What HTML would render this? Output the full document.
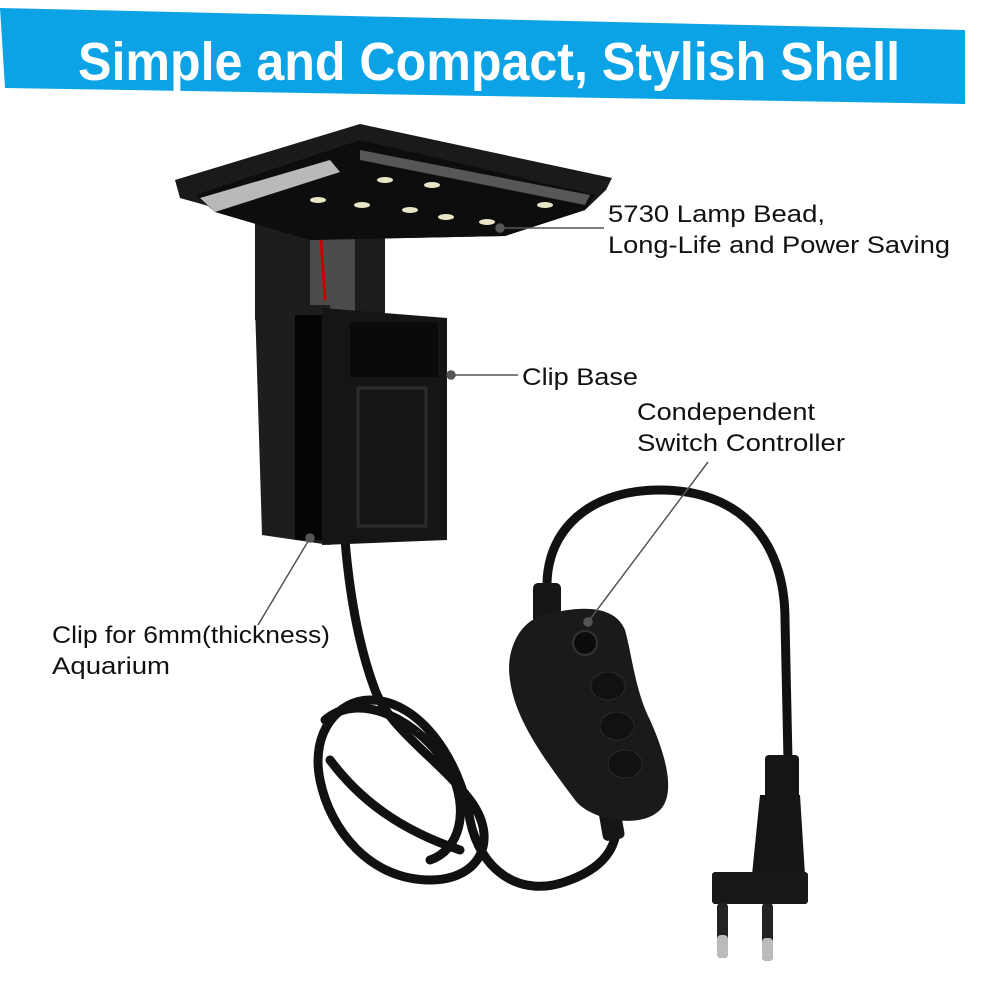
<!DOCTYPE html>
<html><head><meta charset="utf-8"><style>
html,body{margin:0;padding:0;background:#fff;}
svg{display:block;}
text{font-family:"Liberation Sans",Arial,sans-serif;}
</style></head><body>
<svg width="1000" height="1000" viewBox="0 0 1000 1000" xmlns="http://www.w3.org/2000/svg">
<rect width="1000" height="1000" fill="#fff"/>
<!-- banner -->
<polygon points="0,8 965,30 965,104 5,88" fill="#0ba3e5"/>
<text x="78" y="80" font-size="54" font-weight="bold" fill="#fff" textLength="822" lengthAdjust="spacingAndGlyphs">Simple and Compact, Stylish Shell</text>

<!-- cables -->
<g fill="none" stroke="#111" stroke-width="9" stroke-linecap="round">
<path d="M345,540 C350,600 360,650 375,690 C390,730 440,760 470,800 C500,840 480,880 430,880 C370,880 330,830 320,780 C310,730 340,700 370,700 C420,700 460,760 470,820 C480,870 520,900 570,880 C610,865 620,840 615,815"/>
<path d="M330,760 C360,800 400,830 460,850"/>
<path d="M325,720 C360,690 420,720 450,770 C470,810 460,850 430,860"/>
<path d="M548,600 C540,540 580,490 660,490 C740,490 785,540 785,620 L788,760"/>
</g>
<!-- switch strain reliefs -->
<rect x="533" y="583" width="28" height="40" rx="5" fill="#151515"/>
<rect x="600" y="800" width="22" height="40" rx="5" fill="#151515" transform="rotate(-10 611 820)"/>
<!-- switch body -->
<path d="M545,615 C520,620 505,650 510,680 C515,720 545,760 575,800 C590,820 640,830 660,810 C675,795 668,760 650,720 C635,690 632,655 625,630 C615,605 580,605 545,615 Z" fill="#1a1a1a"/>
<circle cx="585" cy="643" r="12" fill="#0c0c0c" stroke="#333" stroke-width="2"/>
<ellipse cx="608" cy="686" rx="17" ry="14" fill="#111" stroke="#2a2a2a"/>
<ellipse cx="617" cy="726" rx="17" ry="14" fill="#111" stroke="#2a2a2a"/>
<ellipse cx="625" cy="764" rx="17" ry="14" fill="#111" stroke="#2a2a2a"/>
<!-- plug -->
<rect x="765" y="755" width="34" height="45" rx="4" fill="#151515"/>
<path d="M760,795 L800,795 L805,875 L752,875 Z" fill="#151515"/>
<rect x="712" y="872" width="96" height="32" rx="3" fill="#181818"/>
<rect x="717" y="903" width="11" height="55" rx="4" fill="#222"/>
<rect x="762" y="903" width="11" height="58" rx="4" fill="#222"/>
<rect x="717" y="935" width="11" height="23" rx="4" fill="#bbb"/>
<rect x="762" y="938" width="11" height="23" rx="4" fill="#bbb"/>

<!-- lamp: neck -->
<rect x="255" y="210" width="130" height="110" fill="#1c1c1c"/>
<rect x="310" y="215" width="45" height="100" fill="#6a6a6a" opacity="0.6"/>
<line x1="320" y1="225" x2="325" y2="300" stroke="#c00" stroke-width="3"/>
<!-- head -->
<polygon points="175,180 360,124 612,178 606,190 585,210 505,236 310,240 230,212 180,198" fill="#1a1a1a"/>
<polygon points="195,195 360,140 595,195 585,210 505,236 310,240 215,212" fill="#0d0d0d"/>
<polygon points="200,198 330,160 340,172 215,212" fill="#d8d8d8" opacity="0.85"/>
<polygon points="360,150 590,195 585,205 360,160" fill="#888" opacity="0.6"/>
<g fill="#e9e6c8">
<ellipse cx="318" cy="200" rx="8" ry="3"/><ellipse cx="362" cy="205" rx="8" ry="3"/>
<ellipse cx="410" cy="210" rx="8" ry="3"/><ellipse cx="446" cy="217" rx="8" ry="3"/>
<ellipse cx="487" cy="222" rx="8" ry="3"/><ellipse cx="385" cy="180" rx="8" ry="3"/>
<ellipse cx="432" cy="185" rx="8" ry="3"/><ellipse cx="545" cy="205" rx="8" ry="3"/>
</g>
<!-- clip base -->
<polygon points="255,305 330,305 330,545 262,535" fill="#1d1d1d"/>
<rect x="295" y="315" width="28" height="225" fill="#050505"/>
<polygon points="322,308 447,318 447,540 322,545" fill="#151515"/>
<rect x="350" y="322" width="88" height="55" fill="#0a0a0a"/>
<rect x="358" y="388" width="68" height="138" fill="none" stroke="#2b2b2b" stroke-width="3"/>

<!-- callouts -->
<g stroke="#555" stroke-width="1.5" fill="#555">
<line x1="500" y1="228" x2="604" y2="228"/><circle cx="500" cy="228" r="4"/>
<line x1="451" y1="375" x2="518" y2="375"/><circle cx="451" cy="375" r="4"/>
<line x1="588" y1="622" x2="708" y2="462"/><circle cx="588" cy="622" r="4"/>
<line x1="310" y1="538" x2="258" y2="625"/><circle cx="310" cy="538" r="4"/>
</g>
<g font-size="24" fill="#111">
<text x="608" y="222" textLength="217" lengthAdjust="spacingAndGlyphs">5730 Lamp Bead,</text>
<text x="608" y="253" textLength="342" lengthAdjust="spacingAndGlyphs">Long-Life and Power Saving</text>
<text x="522" y="385" textLength="116" lengthAdjust="spacingAndGlyphs">Clip Base</text>
<text x="637" y="420" textLength="178" lengthAdjust="spacingAndGlyphs">Condependent</text>
<text x="637" y="451" textLength="208" lengthAdjust="spacingAndGlyphs">Switch Controller</text>
<text x="52" y="643" textLength="278" lengthAdjust="spacingAndGlyphs">Clip for 6mm(thickness)</text>
<text x="52" y="674" textLength="118" lengthAdjust="spacingAndGlyphs">Aquarium</text>
</g>
</svg>
</body></html>
